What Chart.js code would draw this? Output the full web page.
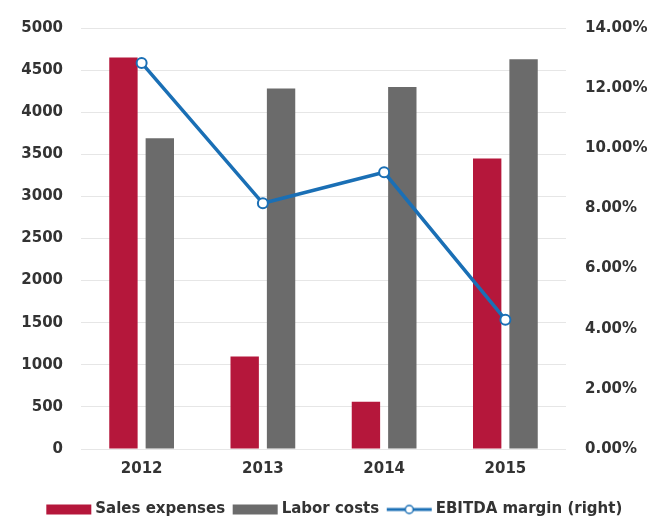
<!DOCTYPE html>
<html>
<head>
<meta charset="utf-8">
<script src="https://cdn.jsdelivr.net/npm/chart.js@4/dist/chart.umd.min.js"></script>
<style>
  html, body { margin: 0; padding: 0; background: #fff; overflow: hidden; }
  #wrap { width: 669px; height: 518px; }
</style>
</head>
<body>
<div id="wrap"><canvas id="costChart"></canvas></div>
<script>
// 年別データ
const years = ['2012', '2013', '2014', '2015'];
const salesExpenses = [4650, 1100, 560, 3450];
const laborCosts = [3690, 4280, 4300, 4630];
const ebitdaMargin = [12.84, 8.17, 9.2, 4.3]; // %

const COLORS = {
  red: '#b5173b',
  gray: '#6b6b6b',
  blue: '#1a6fb5',
  grid: '#e6e6e6',
  text: '#333333',
};

Chart.defaults.font.family = "'DejaVu Sans', sans-serif";
Chart.defaults.font.weight = 'bold';
Chart.defaults.font.size = 15;
Chart.defaults.color = COLORS.text;

// 凡例アイコン（横長の箱／線＋マーカー）
const ICON_W = 50, ICON_H = 14;
function makeIcon(draw) {
  const c = document.createElement('canvas');
  c.width = ICON_W;
  c.height = ICON_H;
  draw(c.getContext('2d'));
  return c;
}
const iconRed = makeIcon(g => { g.fillStyle = COLORS.red; g.fillRect(4, 2, 45, 10); });
const iconGray = makeIcon(g => { g.fillStyle = COLORS.gray; g.fillRect(4, 2, 45, 10); });
const iconLine = makeIcon(g => {
  g.strokeStyle = COLORS.blue;
  g.lineWidth = 3;
  g.beginPath(); g.moveTo(4, 7); g.lineTo(49, 7); g.stroke();
  g.fillStyle = '#fff';
  g.lineWidth = 1.5;
  g.beginPath(); g.arc(26.5, 7, 4, 0, Math.PI * 2); g.fill(); g.stroke();
});
const icons = [iconRed, iconGray, iconLine];

new Chart(document.getElementById('costChart'), {
  data: {
    labels: years,
    datasets: [
      {
        type: 'bar',
        label: 'Sales expenses',
        data: salesExpenses,
        backgroundColor: COLORS.red,
        barPercentage: 0.78,
        categoryPercentage: 0.6,
        yAxisID: 'y',
        order: 1,
      },
      {
        type: 'bar',
        label: 'Labor costs',
        data: laborCosts,
        backgroundColor: COLORS.gray,
        barPercentage: 0.78,
        categoryPercentage: 0.6,
        yAxisID: 'y',
        order: 1,
      },
      {
        type: 'line',
        label: 'EBITDA margin (right)',
        data: ebitdaMargin,
        borderColor: COLORS.blue,
        borderWidth: 3.5,
        pointRadius: 5,
        pointBorderWidth: 2,
        pointBackgroundColor: '#fff',
        pointBorderColor: COLORS.blue,
        tension: 0,
        fill: false,
        yAxisID: 'y1',
        order: 0,
      },
    ],
  },
  options: {
    responsive: true,
    maintainAspectRatio: false,
    animation: false,
    layout: { padding: { top: 19, left: 0, right: 0, bottom: -9 } },
    scales: {
      x: {
        grid: { display: false },
        border: { display: false },
        ticks: { padding: 3 },
        afterFit: s => { s.height = 45; },
      },
      y: {
        position: 'left',
        min: 0,
        max: 5000,
        ticks: { stepSize: 500, padding: 18, callback: v => String(v) },
        grid: { color: COLORS.grid, drawTicks: false },
        border: { display: false },
        afterFit: s => { s.width = 81; },
      },
      y1: {
        position: 'right',
        min: 0,
        max: 14,
        ticks: { stepSize: 2, padding: 19, callback: v => v.toFixed(2) + '%' },
        grid: { display: false, drawTicks: false },
        border: { display: false },
        afterFit: s => { s.width = 103; },
      },
    },
    plugins: {
      tooltip: { enabled: false },
      legend: {
        position: 'bottom',
        labels: {
          usePointStyle: true,
          pointStyleWidth: 41,
          boxHeight: 14,
          padding: 8,
          font: { size: 15, weight: 'bold' },
          color: COLORS.text,
          generateLabels: chart => chart.data.datasets.map((ds, i) => ({
            text: ds.label,
            pointStyle: icons[i],
            fillStyle: 'transparent',
            strokeStyle: 'transparent',
            lineWidth: 0,
            fontColor: COLORS.text,
            datasetIndex: i,
            hidden: false,
          })),
        },
      },
    },
  },
});
</script>
</body>
</html>
